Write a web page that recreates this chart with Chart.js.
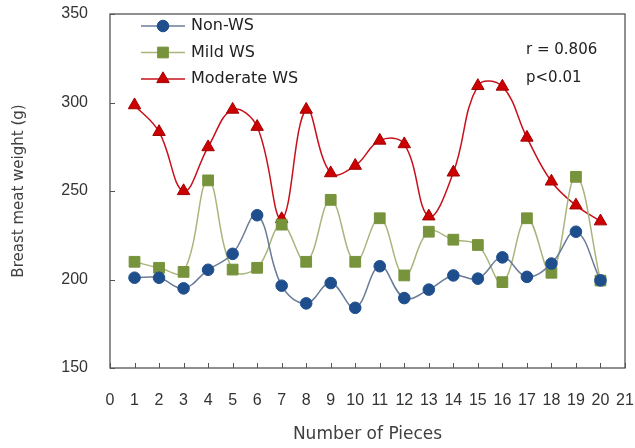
<!DOCTYPE html>
<html>
<head>
<meta charset="utf-8">
<script src="https://cdn.jsdelivr.net/npm/chart.js@4"></script>
<style>
html,body{margin:0;padding:0;background:#fff;}
#wrap{width:635px;height:448px;position:relative;}
</style>
</head>
<body>
<div id="wrap"><canvas id="c" width="635" height="448"></canvas></div>
<script>
const pieces = [1,2,3,4,5,6,7,8,9,10,11,12,13,14,15,16,17,18,19,20];
const nonWS = [201,201,195,205.5,214.5,236.3,196.5,186.5,198,184,207.5,189.5,194.3,202.3,200.5,212.5,201.5,209,227,199.5];
const mildWS = [210,206.6,204.3,256,205.6,206.6,231,210,245,210,234.6,202.3,227,222.5,219.5,198.5,234.6,203.8,258,199.4];
const moderateWS = [298.5,283.4,250,274.8,296,286.3,234.2,296,260.1,264.3,278.5,276.5,235.7,260.5,309.4,309,280.2,255.4,241.9,232.9];
const seriesNames = ['Non-WS','Mild WS','Moderate WS'];
const xTickMin = 0, xTickMax = 21;
const yTickMin = 150, yTickMax = 350, yStep = 50;
const statText = ['r = 0.806','p<0.01'];

const toPts = arr => arr.map((v,i)=>({x: pieces[i], y: v}));

const FONT = "'DejaVu Sans', sans-serif";

const frameAndTicks = {
  id:'frameAndTicks',
  afterDatasetsDraw(chart){
    const {ctx, chartArea:a, scales:{x,y}} = chart;
    ctx.save();
    ctx.strokeStyle = '#555';
    ctx.lineWidth = 1.3;
    ctx.strokeRect(a.left, a.top, a.right-a.left, a.bottom-a.top);
    ctx.lineWidth = 1;
    ctx.beginPath();
    for (let v = xTickMin; v <= xTickMax; v++) {
      const px = Math.round(x.getPixelForValue(v))+0.5;
      ctx.moveTo(px, a.bottom); ctx.lineTo(px, a.bottom-5);
    }
    for (let v = yTickMin; v <= yTickMax; v += yStep) {
      const py = Math.round(y.getPixelForValue(v))+0.5;
      ctx.moveTo(a.left, py); ctx.lineTo(a.left+5, py);
    }
    ctx.stroke();
    ctx.restore();
  }
};

function drawMarker(ctx, style, r, x, y){
  if (style === 'circle') { ctx.arc(x, y, r, 0, Math.PI*2); }
  else if (style === 'rect') { const s = Math.SQRT1_2*r; ctx.rect(x-s, y-s, 2*s, 2*s); }
  else if (style === 'triangle') {
    ctx.moveTo(x, y - r);
    ctx.lineTo(x + Math.sin(2*Math.PI/3)*r, y - Math.cos(2*Math.PI/3)*r);
    ctx.lineTo(x + Math.sin(4*Math.PI/3)*r, y - Math.cos(4*Math.PI/3)*r);
    ctx.closePath();
  }
}

const legendPlugin = {
  id:'customLegend',
  afterDraw(chart){
    const {ctx} = chart;
    ctx.save();
    const rows = [26, 52.5, 79];
    chart.data.datasets.forEach((ds, i) => {
      const yy = rows[i];
      ctx.strokeStyle = ds.borderColor;
      ctx.lineWidth = 1.5;
      ctx.beginPath(); ctx.moveTo(141, yy); ctx.lineTo(185, yy); ctx.stroke();
      ctx.fillStyle = ds.pointBackgroundColor;
      ctx.strokeStyle = ds.pointBorderColor;
      ctx.lineWidth = ds.pointBorderWidth;
      ctx.beginPath();
      drawMarker(ctx, ds.pointStyle, ds.pointRadius, 163, yy);
      ctx.fill(); ctx.stroke();
      ctx.fillStyle = '#222';
      ctx.font = "16px " + FONT;
      ctx.textBaseline = 'middle';
      ctx.textAlign = 'left';
      ctx.fillText(ds.label, 191, yy);
    });
    ctx.font = "15px " + FONT;
    ctx.fillStyle = '#222';
    ctx.textBaseline = 'middle';
    ctx.fillText(statText[0], 526, 50);
    ctx.fillText(statText[1], 526, 78);
    ctx.restore();
  }
};

new Chart(document.getElementById('c'), {
  type: 'line',
  data: {
    datasets: [
      { label: seriesNames[0], data: toPts(nonWS), borderColor:'#6A7C98', borderWidth:1.5,
        pointStyle:'circle', pointRadius:5.8, pointBackgroundColor:'#1F4E8C', pointBorderColor:'#1F4E8C', pointBorderWidth:1, tension:0.4 },
      { label: seriesNames[1], data: toPts(mildWS), borderColor:'#A9B57C', borderWidth:1.5,
        pointStyle:'rect', pointRadius:7.6, pointBackgroundColor:'#77933C', pointBorderColor:'#77933C', pointBorderWidth:1, tension:0.4 },
      { label: seriesNames[2], data: toPts(moderateWS), borderColor:'#C8101C', borderWidth:1.5,
        pointStyle:'triangle', pointRadius:7.2, pointBackgroundColor:'#CC0000', pointBorderColor:'#A00000', pointBorderWidth:1, tension:0.4 }
    ]
  },
  options: {
    responsive:false, animation:false, devicePixelRatio:1,
    layout:{ padding:{ left:0, top:14, right:10, bottom:0 } },
    plugins:{ legend:{display:false}, tooltip:{enabled:false} },
    scales:{
      x:{ type:'linear', min:xTickMin, max:xTickMax,
        border:{display:false},
        grid:{ display:false, drawTicks:false },
        ticks:{ stepSize:1, autoSkip:false, maxRotation:0, padding:23, color:'#333',
          font:{ family:"'Liberation Sans', sans-serif", size:16 } },
        title:{ display:true, text:'Number of Pieces', color:'#404040', padding:{top:0,bottom:3},
          font:{ family:FONT, size:17 } },
        afterFit(s){ s.height = 80; s.paddingLeft = 0; s.paddingRight = 0; }
      },
      y:{ min:yTickMin, max:yTickMax,
        border:{display:false},
        grid:{ display:false, drawTicks:false },
        ticks:{ stepSize:yStep, padding:22, color:'#333',
          font:{ family:"'Liberation Sans', sans-serif", size:16 } },
        title:{ display:true, text:'Breast meat weight (g)', color:'#404040', padding:{top:10,bottom:0},
          font:{ family:FONT, size:15 } },
        afterFit(s){ s.width = 110; s.paddingTop = 0; s.paddingBottom = 0; }
      }
    }
  },
  plugins:[frameAndTicks, legendPlugin]
});
</script>
</body>
</html>
